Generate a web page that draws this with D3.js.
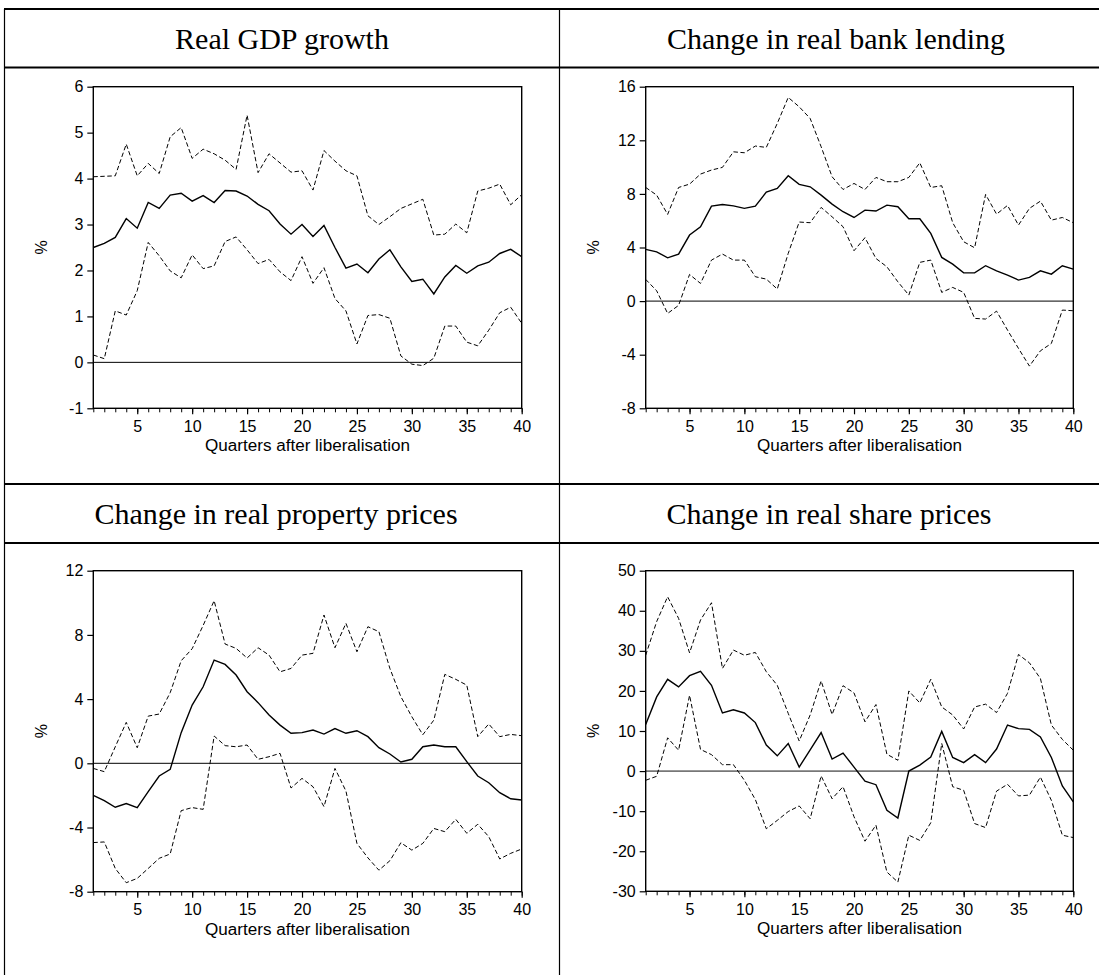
<!DOCTYPE html>
<html>
<head>
<meta charset="utf-8">
<script src="https://cdn.jsdelivr.net/npm/d3@7"></script>
<style>
  html, body { margin: 0; padding: 0; background: #fff; }
  svg { display: block; }
</style>
</head>
<body>
<svg id="chart" width="1099" height="975"></svg>
<script>
// ---------------- DATA ----------------
const quarters = d3.range(1, 41);
const xTickLabels = [5, 10, 15, 20, 25, 30, 35, 40];
const xAxisTitle = "Quarters after liberalisation";
const yAxisTitle = "%";

const panelTitles = ["Real GDP growth", "Change in real bank lending",
                     "Change in real property prices", "Change in real share prices"];

// Real GDP growth
const gdpMid = [2.50,2.59,2.72,3.13,2.92,3.48,3.35,3.64,3.68,3.51,
                3.63,3.48,3.74,3.73,3.62,3.44,3.30,3.01,2.79,3.00,
                2.74,2.98,2.50,2.05,2.14,1.95,2.25,2.45,2.08,1.76,
                1.81,1.49,1.86,2.11,1.94,2.10,2.18,2.37,2.46,2.30];
const gdpUp  = [4.04,4.05,4.06,4.75,4.06,4.33,4.11,4.91,5.11,4.44,
                4.64,4.54,4.40,4.20,5.38,4.13,4.54,4.34,4.14,4.17,
                3.75,4.61,4.38,4.17,4.06,3.19,3.00,3.17,3.35,3.45,
                3.55,2.77,2.79,3.01,2.82,3.73,3.79,3.88,3.43,3.65];
const gdpLo  = [0.16,0.08,1.12,1.03,1.56,2.61,2.32,1.99,1.84,2.34,
                2.04,2.10,2.63,2.73,2.45,2.15,2.24,1.97,1.78,2.30,
                1.72,2.06,1.39,1.12,0.40,1.02,1.04,0.96,0.14,-0.04,
                -0.07,0.09,0.79,0.79,0.44,0.36,0.70,1.08,1.20,0.85];
const gdpTicks = [-1, 0, 1, 2, 3, 4, 5, 6];

// Change in real bank lending
const lendMid = [3.86,3.68,3.23,3.51,4.93,5.55,7.09,7.21,7.11,6.92,
                 7.09,8.13,8.41,9.35,8.71,8.53,7.91,7.24,6.67,6.24,
                 6.79,6.72,7.16,7.04,6.14,6.14,5.05,3.26,2.76,2.11,
                 2.11,2.64,2.26,1.94,1.57,1.77,2.26,2.01,2.64,2.39];
const lendUp  = [8.48,7.91,6.47,8.48,8.73,9.48,9.78,9.98,11.14,11.07,
                 11.57,11.47,13.26,15.20,14.50,13.63,11.52,9.28,8.33,8.78,
                 8.33,9.23,8.91,8.91,9.23,10.32,8.48,8.61,5.85,4.43,
                 3.98,7.96,6.49,7.14,5.67,6.92,7.46,6.04,6.24,5.85];
const lendLo  = [1.62,0.77,-0.92,-0.32,1.99,1.32,3.06,3.51,3.06,3.06,
                 1.82,1.64,0.90,3.56,5.90,5.85,6.99,6.29,5.55,3.76,
                 4.73,3.18,2.56,1.44,0.45,2.89,3.06,0.65,1.02,0.65,
                 -1.29,-1.34,-0.75,-2.16,-3.53,-4.85,-3.71,-3.16,-0.67,-0.72];
const lendTicks = [-8, -4, 0, 4, 8, 12, 16];

// Change in real property prices
const propMid = [-2.00,-2.33,-2.74,-2.51,-2.76,-1.77,-0.79,-0.38,1.91,3.63,
                 4.77,6.43,6.16,5.50,4.46,3.78,3.01,2.38,1.87,1.91,
                 2.07,1.82,2.16,1.87,2.03,1.66,0.97,0.58,0.08,0.25,
                 1.03,1.14,1.03,1.03,0.10,-0.79,-1.21,-1.83,-2.21,-2.29];
const propUp  = [-0.32,-0.52,1.03,2.55,0.97,2.94,3.07,4.40,6.39,7.14,
                 8.59,10.13,7.43,7.16,6.56,7.20,6.74,5.70,5.91,6.74,
                 6.85,9.24,7.20,8.72,6.95,8.51,8.20,5.91,4.15,2.90,
                 1.78,2.69,5.54,5.23,4.87,1.66,2.45,1.66,1.80,1.72];
const propLo  = [-4.94,-4.90,-6.55,-7.44,-7.17,-6.55,-5.92,-5.65,-2.95,-2.76,
                 -2.87,1.70,1.10,1.03,1.14,0.25,0.41,0.62,-1.54,-0.94,
                 -1.46,-2.70,-0.32,-1.73,-4.99,-5.89,-6.66,-6.07,-4.95,-5.41,
                 -4.99,-4.06,-4.26,-3.49,-4.36,-3.80,-4.57,-5.96,-5.61,-5.34];
const propTicks = [-8, -4, 0, 4, 8, 12];

// Change in real share prices
const shareMid = [11.6,18.5,22.9,21.0,23.8,24.9,21.4,14.5,15.3,14.5,
                  12.1,6.5,3.8,6.9,1.0,5.3,9.6,3.0,4.5,1.0,
                  -2.5,-3.4,-9.8,-11.7,0.0,1.5,3.5,9.9,3.4,2.1,
                  4.1,2.1,5.5,11.5,10.6,10.4,8.5,3.4,-3.7,-7.7];
const shareUp  = [28.9,37.3,43.5,38.1,29.5,37.7,42.0,25.6,30.2,28.9,
                  29.6,24.8,21.4,14.4,7.5,14.0,22.5,14.1,21.3,19.5,
                  12.3,16.6,4.2,2.7,20.0,17.0,22.9,16.0,14.0,10.5,
                  16.0,16.7,14.6,19.4,29.1,27.0,23.1,11.5,7.9,5.2];
const shareLo  = [-2.3,-1.3,8.3,5.2,18.9,5.4,4.1,1.6,1.6,-2.3,
                  -7.1,-14.4,-12.3,-10.1,-8.7,-11.9,-1.2,-6.9,-3.9,-11.4,
                  -17.5,-13.5,-25.2,-27.7,-16.0,-17.3,-12.9,6.9,-3.9,-4.8,
                  -13.1,-14.1,-5.0,-3.3,-6.2,-6.0,-1.5,-7.3,-16.0,-16.6];
const shareTicks = [-30, -20, -10, 0, 10, 20, 30, 40, 50];

// ---------------- LAYOUT ----------------
const svg = d3.select("#chart");
const W = 1099, H = 975;
const colX = [4.5, 559.5];
const rowLines = [9, 67.5, 484, 543];
const fmt = d => String(d);   // plain hyphen minus as in the original

const panels = [
  {title: panelTitles[0], mid: gdpMid, up: gdpUp, lo: gdpLo, ticks: gdpTicks,
   x0: 93.3, x1: 521.7, y0: 86.7, y1: 408.3, zeroColor: "#000", tcx: 282, tcy: 38},
  {title: panelTitles[1], mid: lendMid, up: lendUp, lo: lendLo, ticks: lendTicks,
   x0: 645.7, x1: 1073.3, y0: 86.7, y1: 408.3, zeroColor: "#000", tcx: 836, tcy: 38},
  {title: panelTitles[2], mid: propMid, up: propUp, lo: propLo, ticks: propTicks,
   x0: 93.3, x1: 521.7, y0: 570.7, y1: 891.7, zeroColor: "#000", tcx: 276, tcy: 513.5},
  {title: panelTitles[3], mid: shareMid, up: shareUp, lo: shareLo, ticks: shareTicks,
   x0: 645.7, x1: 1073.3, y0: 570.7, y1: 891.3, zeroColor: "#777", tcx: 829, tcy: 513.5}
];

// table grid
const grid = svg.append("g").attr("stroke", "#000").attr("fill", "none");
grid.append("line").attr("x1", colX[0]).attr("x2", colX[0]).attr("y1", rowLines[0]).attr("y2", H).attr("stroke-width", 1.2);
grid.append("line").attr("x1", colX[1]).attr("x2", colX[1]).attr("y1", rowLines[0]).attr("y2", H).attr("stroke-width", 1.2);
rowLines.forEach(y => {
  grid.append("line").attr("x1", 4).attr("x2", W).attr("y1", y).attr("y2", y).attr("stroke-width", 2);
});

// panels
panels.forEach(p => {
  const x = d3.scaleLinear().domain([1, 40]).range([p.x0, p.x1]);
  const y = d3.scaleLinear().domain([d3.min(p.ticks), d3.max(p.ticks)]).range([p.y1, p.y0]);
  const g = svg.append("g");

  // title
  svg.append("text")
    .attr("x", p.tcx).attr("y", p.tcy)
    .attr("text-anchor", "middle").attr("dominant-baseline", "central")
    .attr("font-family", "Liberation Serif, Times New Roman, serif")
    .attr("font-size", 30)
    .text(p.title);

  // zero line
  g.append("line")
    .attr("x1", p.x0).attr("x2", p.x1)
    .attr("y1", y(0)).attr("y2", y(0))
    .attr("stroke", p.zeroColor).attr("stroke-width", p.zeroColor === "#000" ? 1 : 1.6);

  // lines
  const line = d3.line().x((d, i) => x(quarters[i])).y(d => y(d));
  g.append("path").datum(p.up).attr("d", line).attr("fill", "none")
    .attr("stroke", "#000").attr("stroke-width", 1).attr("stroke-dasharray", "4.5,2.5");
  g.append("path").datum(p.lo).attr("d", line).attr("fill", "none")
    .attr("stroke", "#000").attr("stroke-width", 1).attr("stroke-dasharray", "4.5,2.5");
  g.append("path").datum(p.mid).attr("d", line).attr("fill", "none")
    .attr("stroke", "#000").attr("stroke-width", 1.4);

  // frame
  g.append("rect").attr("x", p.x0).attr("y", p.y0)
    .attr("width", p.x1 - p.x0).attr("height", p.y1 - p.y0)
    .attr("fill", "none").attr("stroke", "#000").attr("stroke-width", 1.4);

  // y axis
  const yAxis = d3.axisLeft(y).tickValues(p.ticks).tickSize(6).tickPadding(4).tickFormat(fmt);
  const ya = g.append("g").attr("transform", `translate(${p.x0},0)`).call(yAxis);
  ya.select(".domain").remove();
  ya.selectAll("line").attr("stroke-width", 1.2);
  ya.selectAll("text").attr("font-family", "Liberation Sans, Arial, sans-serif").attr("font-size", 16).attr("fill", "#000");

  // x axis minor ticks
  const xMinor = d3.axisBottom(x).tickValues(quarters).tickSize(4).tickFormat("");
  const xm = g.append("g").attr("transform", `translate(0,${p.y1})`).call(xMinor);
  xm.select(".domain").remove();
  xm.selectAll("line").attr("stroke-width", 1);
  // x axis major ticks with labels
  const xMajor = d3.axisBottom(x).tickValues(xTickLabels).tickSize(6).tickPadding(6).tickFormat(fmt);
  const xa = g.append("g").attr("transform", `translate(0,${p.y1})`).call(xMajor);
  xa.select(".domain").remove();
  xa.selectAll("line").attr("stroke-width", 1.2);
  xa.selectAll("text").attr("font-family", "Liberation Sans, Arial, sans-serif").attr("font-size", 16).attr("fill", "#000");

  // x axis title
  g.append("text")
    .attr("x", (p.x0 + p.x1) / 2).attr("y", p.y1 + 43)
    .attr("text-anchor", "middle")
    .attr("font-family", "Liberation Sans, Arial, sans-serif")
    .attr("font-size", 16)
    .attr("textLength", 205).attr("lengthAdjust", "spacingAndGlyphs")
    .text(xAxisTitle);

  // y axis title
  g.append("text")
    .attr("transform", `translate(${p.x0 - 52},${(p.y0 + p.y1) / 2}) rotate(-90)`)
    .attr("text-anchor", "middle").attr("dominant-baseline", "central")
    .attr("font-family", "Liberation Sans, Arial, sans-serif")
    .attr("font-size", 16)
    .text(yAxisTitle);
});
</script>
</body>
</html>
